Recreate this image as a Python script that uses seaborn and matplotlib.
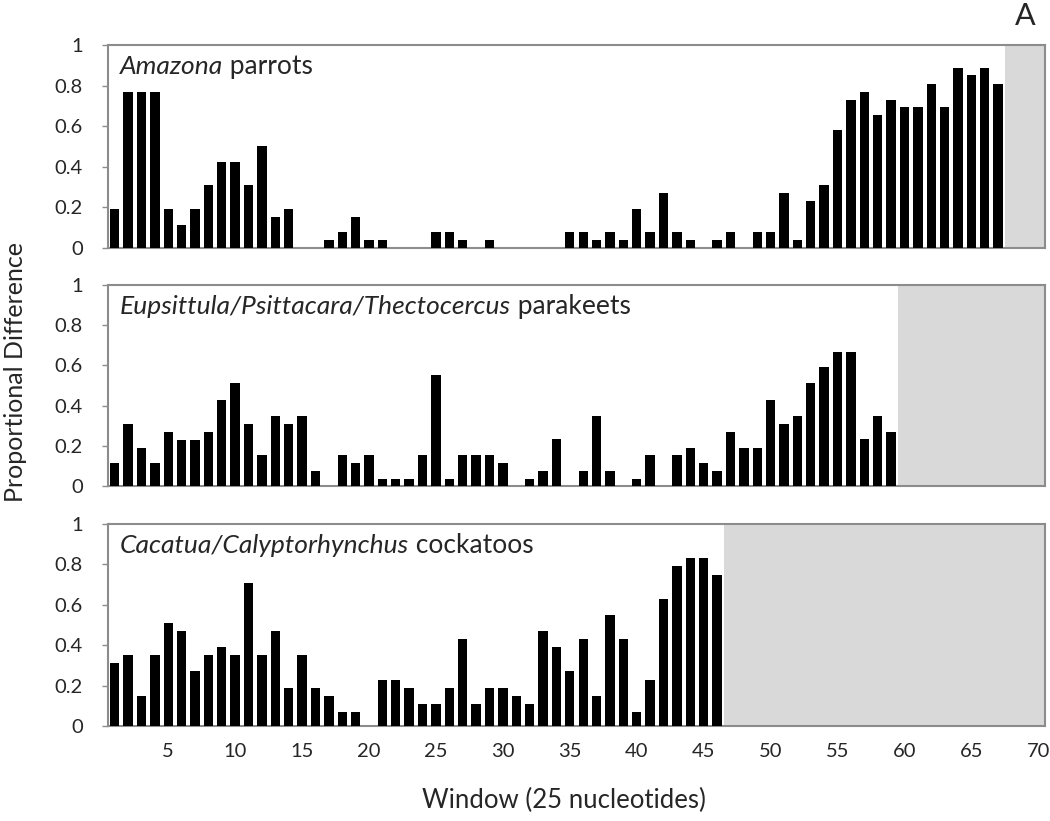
import numpy as np
import pandas as pd
import matplotlib
matplotlib.use('Agg')
import matplotlib.pyplot as plt
import seaborn as sns

# windows shown on the x axis
windows = list(range(1, 71))
tick_windows = [5, 10, 15, 20, 25, 30, 35, 40, 45, 50, 55, 60, 65, 70]

# proportional difference per window
amazona = [0.19, 0.77, 0.77, 0.77, 0.19, 0.115, 0.19, 0.31, 0.425, 0.425,
           0.31, 0.50, 0.155, 0.19, 0, 0, 0.038, 0.077, 0.155, 0.038,
           0.038, 0, 0, 0, 0.077, 0.077, 0.038, 0, 0.038, 0,
           0, 0, 0, 0, 0.077, 0.077, 0.038, 0.077, 0.038, 0.19,
           0.077, 0.27, 0.077, 0.038, 0, 0.038, 0.077, 0, 0.077, 0.077,
           0.27, 0.038, 0.23, 0.31, 0.58, 0.73, 0.77, 0.655, 0.73, 0.695,
           0.695, 0.81, 0.695, 0.885, 0.85, 0.885, 0.81]

parakeets = [0.115, 0.31, 0.19, 0.115, 0.27, 0.23, 0.23, 0.27, 0.43, 0.51,
             0.31, 0.155, 0.35, 0.31, 0.35, 0.075, 0, 0.155, 0.115, 0.155,
             0.035, 0.035, 0.035, 0.155, 0.55, 0.035, 0.155, 0.155, 0.155, 0.115,
             0, 0.035, 0.075, 0.235, 0, 0.075, 0.35, 0.075, 0, 0.035,
             0.155, 0, 0.155, 0.19, 0.115, 0.075, 0.27, 0.19, 0.19, 0.43,
             0.31, 0.35, 0.51, 0.59, 0.665, 0.665, 0.235, 0.35, 0.27]

cockatoos = [0.31, 0.35, 0.15, 0.35, 0.51, 0.47, 0.27, 0.35, 0.39, 0.35,
             0.71, 0.35, 0.47, 0.19, 0.35, 0.19, 0.15, 0.07, 0.07, 0,
             0.23, 0.23, 0.19, 0.11, 0.11, 0.19, 0.43, 0.11, 0.19, 0.19,
             0.15, 0.11, 0.47, 0.39, 0.27, 0.43, 0.15, 0.55, 0.43, 0.07,
             0.23, 0.63, 0.79, 0.83, 0.83, 0.75]

panels = [
    ('Amazona', 'parrots', amazona),
    ('Eupsittula/Psittacara/Thectocercus', 'parakeets', parakeets),
    ('Cacatua/Calyptorhynchus', 'cockatoos', cockatoos),
]

sns.set_style('white')
plt.rcParams['font.family'] = ['Lato', 'DejaVu Sans']

fig = plt.figure(figsize=(10.5, 8.21), dpi=100)

W, H = 1050, 821
left, right = 108, 1045
boxes = [(45, 248), (285, 486), (524, 726)]

spine_col = '#8c8c8c'
for i, ((top, bot), (ital, rest, vals)) in enumerate(zip(boxes, panels)):
    ax = fig.add_axes([left / W, 1 - bot / H, (right - left) / W, (bot - top) / H])
    df = pd.DataFrame({'window': windows[:len(vals)], 'value': vals})
    sns.barplot(data=df, x='window', y='value', order=windows, color='black',
                width=0.7, errorbar=None, saturation=1, linewidth=0, ax=ax, zorder=3)
    ax.axvspan(len(vals) - 0.5, len(windows) - 0.5, color='#d9d9d9', lw=0, zorder=1)
    ax.set_xlim(-0.5, len(windows) - 0.5)
    ax.set_ylim(0, 1)
    ax.set_yticks([0, 0.2, 0.4, 0.6, 0.8, 1])
    ax.set_yticklabels(['0', '0.2', '0.4', '0.6', '0.8', '1'])
    ax.set_xlabel('')
    ax.set_ylabel('')
    ax.tick_params(axis='y', left=True, length=4, width=1, color=spine_col,
                   labelsize=14.5, pad=14)
    ax.set_xticks([windows.index(t) for t in tick_windows])
    if i == 2:
        ax.set_xticklabels([str(t) for t in tick_windows])
        ax.tick_params(axis='x', length=0, labelsize=14.5, pad=12)
    else:
        ax.set_xticklabels([])
        ax.tick_params(axis='x', length=0)
    for s in ax.spines.values():
        s.set_visible(True)
        s.set_color(spine_col)
        s.set_linewidth(1.5)

    # panel label: italic genus names then plain group name
    t = ax.text(0.013, 0.855, ital, style='italic', fontsize=19,
                transform=ax.transAxes, va='baseline', zorder=5)
    fig.canvas.draw()
    bb = t.get_window_extent()
    x2 = ax.transAxes.inverted().transform((bb.x1, bb.y0))[0]
    ax.text(x2, 0.855, ' ' + rest, fontsize=19, transform=ax.transAxes,
            va='baseline', zorder=5)

fig.text(16 / W, 1 - 372 / H, 'Proportional Difference', rotation=90,
         ha='center', va='center', fontsize=18)
fig.text(564 / W, 1 - 800 / H, 'Window (25 nucleotides)', ha='center',
         va='center', fontsize=18.5)
fig.text(1025 / W, 1 - 16 / H, 'A', ha='center', va='center', fontsize=22)

fig.savefig('out.png', dpi=100)
